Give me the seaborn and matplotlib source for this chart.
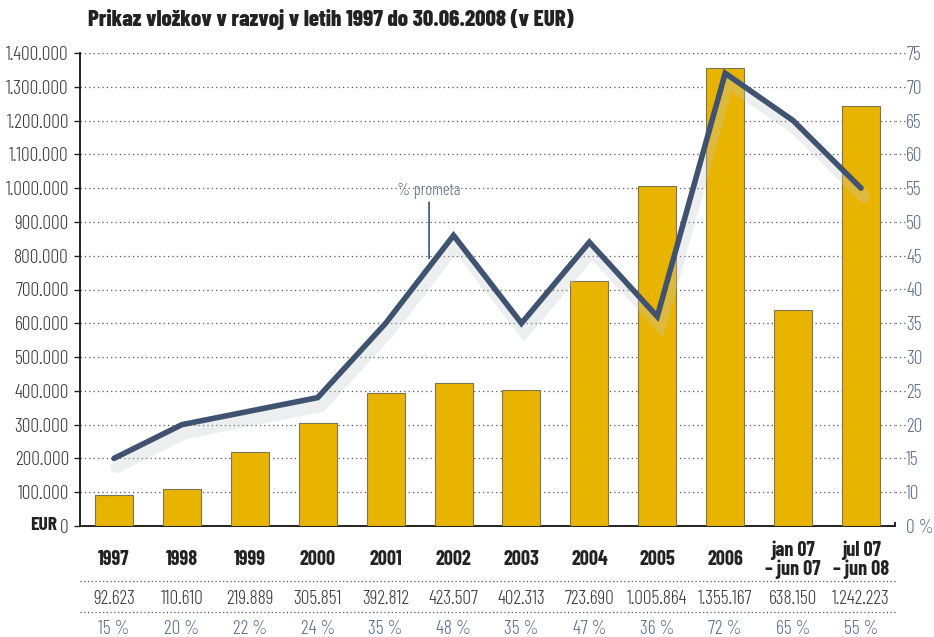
import numpy as np
import pandas as pd
import matplotlib
matplotlib.use("Agg")
import matplotlib.pyplot as plt
import matplotlib.patheffects as pe
import seaborn as sns

# data
categories = ["1997", "1998", "1999", "2000", "2001", "2002", "2003", "2004",
              "2005", "2006", "jan 07\n– jun 07", "jul 07\n– jun 08"]
deposits = [92623, 110610, 219889, 305851, 392812, 423507, 402313, 723690,
            1005864, 1355167, 638150, 1242223]
percent = [15, 20, 22, 24, 35, 48, 35, 47, 36, 72, 65, 55]
left_ticks = list(range(0, 1400001, 100000))
right_ticks = [5, 10, 15, 20, 25, 30, 35, 40, 45, 50, 55, 60, 65, 70, 75]

BAR = "#E8B400"
LINE = "#3F5270"
SLATE = "#5D6E8C"
GREY = "#3a3a3a"

sns.set_style("white")
plt.rcParams["font.family"] = ["Barlow Condensed", "DejaVu Sans"]


def fmt(v):
    return f"{v:,}".replace(",", ".")


df = pd.DataFrame({"cat": categories, "eur": deposits, "pct": percent})

fig = plt.figure(figsize=(9.34, 6.37), dpi=100)
ax = fig.add_axes([80 / 934, 1 - 526 / 637, 815 / 934, 473 / 637])

sns.barplot(data=df, x="cat", y="eur", ax=ax, color=BAR, width=0.56,
            edgecolor="#7d7355", linewidth=0.8, saturation=1, zorder=3)
ax.set_xlim(-0.5, len(categories) - 0.5)
ax.set_ylim(0, 1400000)
ax.set_yticks(left_ticks)
ax.set_yticklabels([fmt(v) if v else "0" for v in left_ticks], color=GREY,
                   fontsize=14, fontweight=300)
ax.set_xticks(np.arange(len(categories) + 1) - 0.5)
ax.set_xticklabels([])
ax.tick_params(axis="x", length=6, width=1.2, direction="out", color="#222")
ax.tick_params(axis="y", length=4, width=1, direction="out", color="#222", pad=4)
ax.set_xlabel("")
ax.set_ylabel("")
for s in ["top", "right"]:
    ax.spines[s].set_visible(False)
for s in ["left", "bottom"]:
    ax.spines[s].set_color("#222")
    ax.spines[s].set_linewidth(1.4)
ax.grid(axis="y", linestyle=(0, (1, 2.5)), color="#555", linewidth=0.9, zorder=0)
ax.set_axisbelow(True)

ax.text(-0.028, 0, "EUR", transform=ax.transAxes, ha="right", va="center",
        fontsize=14, fontweight="bold", color="#222")

# percent line on the second axis
ax2 = ax.twinx()
sns.lineplot(x=np.arange(len(percent)), y=percent, ax=ax2, color=LINE,
             linewidth=4, zorder=5, solid_joinstyle="miter",
             path_effects=[pe.SimpleLineShadow(offset=(2, -6), shadow_color="#c4c8ce",
                                               alpha=0.3, linewidth=9),
                           pe.Normal()])
ax2.set_ylim(5, 75)
ax2.set_yticks(right_ticks)
ax2.set_yticklabels(["0 %"] + [str(v) for v in right_ticks[1:]], color=SLATE,
                    fontsize=14, fontweight=300)
ax2.tick_params(axis="y", length=0, pad=8)
for s in ["top", "left", "bottom"]:
    ax2.spines[s].set_visible(False)
ax2.spines["right"].set_color("#222")
ax2.spines["right"].set_linewidth(1.4)
ax2.spines["right"].set_bounds(5, 5.4)
ax2.set_xlim(-0.5, len(categories) - 0.5)
ax2.set_ylabel("")

# gridline stubs to the right of the frame
for v in right_ticks[1:]:
    ax2.plot([1.0, 1.012], [v, v], transform=ax2.get_yaxis_transform(),
             linestyle=(0, (1, 2.5)), color="#555", linewidth=0.9, clip_on=False)

# annotation
ax2.annotate("% prometa", xy=(4.64, 44.6), xytext=(4.64, 53.4), ha="center",
             va="bottom", fontsize=12, fontweight=300, color=SLATE,
             arrowprops=dict(arrowstyle="-", color=LINE, lw=1.2, shrinkA=0, shrinkB=0))

# title
fig.text(88 / 934, 1 - 20 / 637, "Prikaz vložkov v razvoj v letih 1997 do 30.06.2008 (v EUR)",
         fontsize=16.5, fontweight=800, color="#222", va="center", ha="left")

# table below
tr = ax.get_xaxis_transform()
for i, c in enumerate(categories):
    ax.text(i, -0.071, c, transform=tr, ha="center", va="center", fontsize=14.5,
            fontweight="bold", color="#222", linespacing=0.95)
    ax.text(i, -0.155, fmt(deposits[i]), transform=tr, ha="center", va="center",
            fontsize=14, fontweight=300, color=GREY)
    ax.text(i, -0.218, f"{percent[i]} %", transform=tr, ha="center", va="center",
            fontsize=14, fontweight=300, color=SLATE)
for yy in [-0.117, -0.182]:
    ax.plot([0, 1], [yy, yy], transform=ax.transAxes, linestyle=(0, (1, 2)),
            color="#555", linewidth=0.9, clip_on=False)

fig.savefig("out.png", dpi=100)
